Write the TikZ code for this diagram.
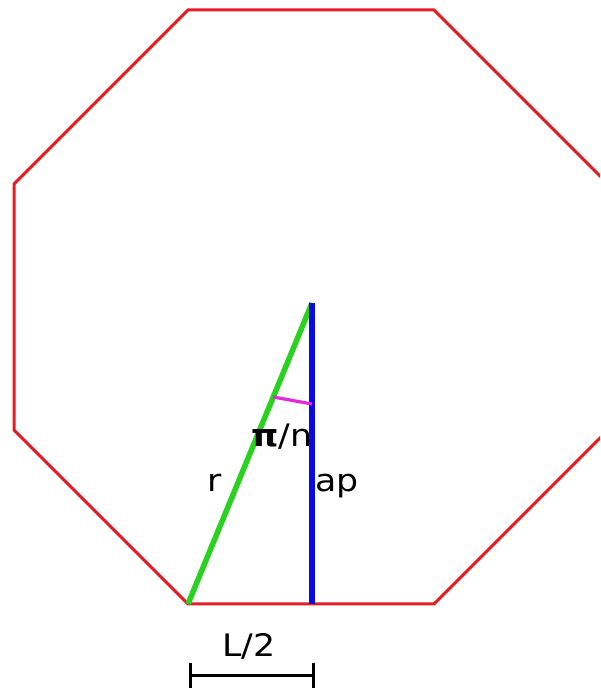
\documentclass[tikz,border=0pt]{standalone}
\usepackage{fontspec}
\setmainfont[FakeStretch=1.12]{DejaVu Sans}
\definecolor{octred}{RGB}{228,28,36}
\definecolor{rgreen}{RGB}{40,210,30}
\definecolor{apblue}{RGB}{10,10,230}
\definecolor{angmag}{RGB}{230,40,220}
\begin{document}
\begin{tikzpicture}[x=1pt,y=1pt,
  lbl/.style={anchor=base,inner sep=0pt,font=\fontsize{31}{36}\selectfont},
  octline/.style={draw=octred,line width=3pt,line join=miter},
  seg/.style={line width=5.5pt}]
\useasboundingbox (0,0) rectangle (600,688);
\clip (0,0) rectangle (600,688);
\fill[white] (0,0) rectangle (600,688);
% octagon
\coordinate (p1) at (188,678);
\coordinate (p2) at (434,678);
\coordinate (p3) at (608,504);
\coordinate (p4) at (608,258);
\coordinate (p5) at (434,84);
\coordinate (p6) at (188,84);
\coordinate (p7) at (14,258);
\coordinate (p8) at (14,504);
\draw[octline] (p1) -- (p2) -- (p3) -- (p4) -- (p5) -- (p6) -- (p7) -- (p8) -- cycle;
% center, foot, vertex
\coordinate (O) at (312,385);
\coordinate (F) at (312,84);
\coordinate (V) at (188,84);
\draw[seg,draw=rgreen] (O) -- (V);
\draw[seg,draw=apblue] (O) -- (F);
% angle
\coordinate (ag) at (273,291);
\coordinate (ab) at (312,284);
\draw[angmag,line width=3.2pt] (ag) -- (ab);
% labels
\node[lbl] (pin) at (282,241) {{\bfseries π}/n};
\node[lbl] (rl) at (215,196) {r};
\node[lbl] (apl) at (337,196) {ap};
\node[lbl] (half) at (249,31) {L/2};
% L/2 bracket
\coordinate (bl) at (190,12);
\coordinate (br) at (313,12);
\draw[black,line width=3pt] (bl) -- (br);
\draw[black,line width=3pt] ([yshift=13pt]bl) -- ([yshift=-14pt]bl);
\draw[black,line width=3pt] ([yshift=13pt]br) -- ([yshift=-14pt]br);
\end{tikzpicture}
\end{document}
